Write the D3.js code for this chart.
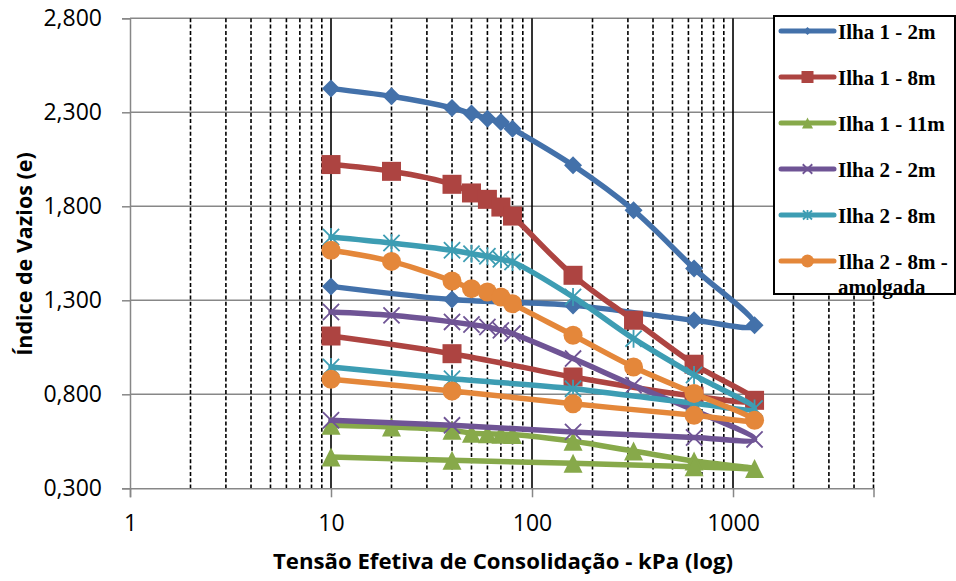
<!DOCTYPE html>
<html>
<head>
<meta charset="utf-8">
<script src="https://cdn.jsdelivr.net/npm/d3@7"></script>
<style>
  html, body { margin: 0; padding: 0; background: #fff; }
  svg { display: block; }
</style>
</head>
<body>
<svg id="chart" width="956" height="581"></svg>
<script>
// Tensões aplicadas (kPa): carregamento até 1280 kPa e descarregamento
const tensoes = [10, 20, 40, 50, 60, 70, 80, 160, 320, 640, 1280, 640, 160, 40, 10];

const nomesSeries = [
  "Ilha 1 - 2m", "Ilha 1 - 8m", "Ilha 1 - 11m",
  "Ilha 2 - 2m", "Ilha 2 - 8m", "Ilha 2 - 8m - amolgada"
];

// Índice de vazios (e) de cada ensaio
const ilha1_2m  = [2.426, 2.385, 2.323, 2.293, 2.266, 2.248, 2.213, 2.018, 1.779, 1.469, 1.167, 1.194, 1.273, 1.304, 1.374];
const ilha1_8m  = [2.022, 1.986, 1.917, 1.871, 1.837, 1.796, 1.748, 1.433, 1.194, 0.960, 0.768, 0.790, 0.892, 1.016, 1.110];
const ilha1_11m = [0.635, 0.626, 0.609, 0.593, 0.590, 0.588, 0.586, 0.550, 0.498, 0.445, 0.405, 0.415, 0.433, 0.449, 0.467];
const ilha2_2m  = [1.238, 1.220, 1.185, 1.171, 1.158, 1.140, 1.123, 0.990, 0.848, 0.715, 0.560, 0.570, 0.600, 0.635, 0.662];
const ilha2_8m  = [1.637, 1.605, 1.566, 1.548, 1.534, 1.518, 1.504, 1.318, 1.096, 0.903, 0.724, 0.752, 0.830, 0.883, 0.945];
const ilha2_8m_amolgada = [1.566, 1.507, 1.403, 1.362, 1.344, 1.318, 1.282, 1.114, 0.945, 0.804, 0.662, 0.688, 0.750, 0.818, 0.880];

const valoresSeries = [ilha1_2m, ilha1_8m, ilha1_11m, ilha2_2m, ilha2_8m, ilha2_8m_amolgada];

// Eixos
const xTicks = [1, 10, 100, 1000];
const yTicks = [0.3, 0.8, 1.3, 1.8, 2.3, 2.8];
const xTitulo = "Tensão Efetiva de Consolidação - kPa (log)";
const yTitulo = "Índice de Vazios (e)";

const cores = ["#4371AA", "#AD4441", "#87A94A", "#6F5495", "#3D9DB3", "#E4873A"];
const marcadores = ["diamond", "square", "triangle", "x", "star", "circle"];

const svg = d3.select("#chart");
const area = { esq: 130, dir: 873.5, topo: 18.3, base: 488.3 };

const x = d3.scaleLog().domain([1, 5000]).range([area.esq, area.dir]);
const y = d3.scaleLinear().domain([0.3, 2.8]).range([area.base, area.topo]);

const fmtY = v => d3.format(".3f")(v).replace(".", ",");

// Linhas de grade verticais (escala logarítmica)
const menores = [];
[1, 10, 100, 1000].forEach(d => {
  for (let k = 2; k <= 9; k++) {
    const v = d * k;
    if (v <= 5000) menores.push(v);
  }
});
const gGrid = svg.append("g");

// Linhas de grade horizontais
gGrid.selectAll("line.h").data(yTicks.slice(1)).join("line")
  .attr("class", "h")
  .attr("x1", area.esq).attr("x2", area.dir)
  .attr("y1", d => y(d)).attr("y2", d => y(d))
  .attr("stroke", "#878787").attr("stroke-width", 1.5);

gGrid.selectAll("line.menor").data(menores).join("line")
  .attr("class", "menor")
  .attr("x1", d => x(d)).attr("x2", d => x(d))
  .attr("y1", area.topo).attr("y2", area.base)
  .attr("stroke", "#000").attr("stroke-width", 1.6)
  .attr("stroke-dasharray", "4,2.3");
gGrid.selectAll("line.maior").data([10, 100, 1000]).join("line")
  .attr("class", "maior")
  .attr("x1", d => x(d)).attr("x2", d => x(d))
  .attr("y1", area.topo).attr("y2", area.base)
  .attr("stroke", "#000").attr("stroke-width", 1.6);

// Eixo Y
const yAxis = d3.axisLeft(y).tickValues(yTicks).tickSize(8).tickPadding(12).tickFormat(fmtY);
const gy = svg.append("g").attr("transform", `translate(${area.esq},0)`).call(yAxis);
gy.select(".domain").attr("stroke", "#878787").attr("stroke-width", 1.5);
gy.selectAll(".tick line").attr("stroke", "#878787").attr("stroke-width", 1.5);
gy.selectAll(".tick text")
  .attr("font-family", "'Open Sans', sans-serif").attr("font-size", 23)
  .attr("fill", "#000").attr("x", -28);

// Eixo X
const xAxis = d3.axisBottom(x).tickValues(xTicks).tickSize(9).tickPadding(14).tickFormat(d3.format("d"));
const gx = svg.append("g").attr("transform", `translate(0,${area.base})`).call(xAxis);
gx.select(".domain").attr("stroke", "#878787").attr("stroke-width", 1.5);
gx.selectAll(".tick line").attr("stroke", "#878787").attr("stroke-width", 1.5);
gx.selectAll(".tick text")
  .attr("font-family", "'Open Sans', sans-serif").attr("font-size", 23)
  .attr("fill", "#000").attr("y", 26).attr("dy", "0.71em");

// Títulos dos eixos
svg.append("text")
  .attr("x", 503).attr("y", 569)
  .attr("text-anchor", "middle")
  .attr("font-family", "'Open Sans', sans-serif").attr("font-weight", "bold")
  .attr("font-size", 22.2).attr("fill", "#000")
  .text(xTitulo);

svg.append("text")
  .attr("transform", "translate(32,254) rotate(-90)")
  .attr("text-anchor", "middle")
  .attr("font-family", "'Open Sans', sans-serif").attr("font-weight", "bold")
  .attr("font-size", 21.5).attr("fill", "#000")
  .text(yTitulo);

// Marcadores
function marcador(g, tipo, cor, s) {
  const h = s / 2;
  if (tipo === "diamond") {
    g.append("path").attr("d", `M0,${-h}L${h},0L0,${h}L${-h},0Z`).attr("fill", cor);
  } else if (tipo === "square") {
    g.append("rect").attr("x", -h).attr("y", -h).attr("width", s).attr("height", s).attr("fill", cor);
  } else if (tipo === "triangle") {
    g.append("path").attr("d", `M0,${-h}L${h},${h}L${-h},${h}Z`).attr("fill", cor);
  } else if (tipo === "circle") {
    g.append("circle").attr("r", h).attr("fill", cor);
  } else if (tipo === "x") {
    const a = h * 0.95;
    g.append("path").attr("d", `M${-a},${-a}L${a},${a}M${a},${-a}L${-a},${a}`)
      .attr("stroke", cor).attr("stroke-width", 1.8).attr("fill", "none");
  } else if (tipo === "star") {
    const a = h * 0.9;
    g.append("path").attr("d", `M${-a},${-a}L${a},${a}M${a},${-a}L${-a},${a}M0,${-h}L0,${h}`)
      .attr("stroke", cor).attr("stroke-width", 1.8).attr("fill", "none");
  }
}

const linha = d3.line()
  .x(d => x(d[0]))
  .y(d => y(d[1]))
  .curve(d3.curveCatmullRom.alpha(0.5));

const tamanhos = [18, 19, 19, 17, 18, 19];

valoresSeries.forEach((vals, i) => {
  const pts = vals.map((v, j) => [tensoes[j], v]);
  const g = svg.append("g");
  g.append("path").datum(pts)
    .attr("d", linha)
    .attr("fill", "none")
    .attr("stroke", cores[i])
    .attr("stroke-width", 5.5)
    .attr("stroke-linejoin", "round")
    .attr("stroke-linecap", "round");
  g.selectAll("g.m").data(pts).join("g")
    .attr("class", "m")
    .attr("transform", d => `translate(${x(d[0])},${y(d[1])})`)
    .each(function () { marcador(d3.select(this), marcadores[i], cores[i], tamanhos[i]); });
});

// Legenda
const leg = svg.append("g");
leg.append("rect")
  .attr("x", 774).attr("y", 16).attr("width", 181).attr("height", 278)
  .attr("fill", "#fff").attr("stroke", "#000").attr("stroke-width", 2);
const legTam = [8, 12, 11, 10, 10, 13];
nomesSeries.forEach((nome, i) => {
  const cy = 31 + i * 46;
  const item = leg.append("g");
  item.append("line")
    .attr("x1", 781).attr("x2", 834).attr("y1", cy).attr("y2", cy)
    .attr("stroke", cores[i]).attr("stroke-width", 5).attr("stroke-linecap", "round");
  const m = item.append("g").attr("transform", `translate(807.5,${cy})`);
  marcador(m, marcadores[i], cores[i], legTam[i]);
  const partes = nome === "Ilha 2 - 8m - amolgada" ? ["Ilha 2 - 8m -", "amolgada"] : [nome];
  partes.forEach((p, k) => {
    item.append("text")
      .attr("x", 838).attr("y", cy + 7.5 + k * 25)
      .attr("font-family", "'Liberation Serif', 'Times New Roman', serif")
      .attr("font-weight", "bold").attr("font-size", 21).attr("fill", "#000")
      .text(p);
  });
});
</script>
</body>
</html>
